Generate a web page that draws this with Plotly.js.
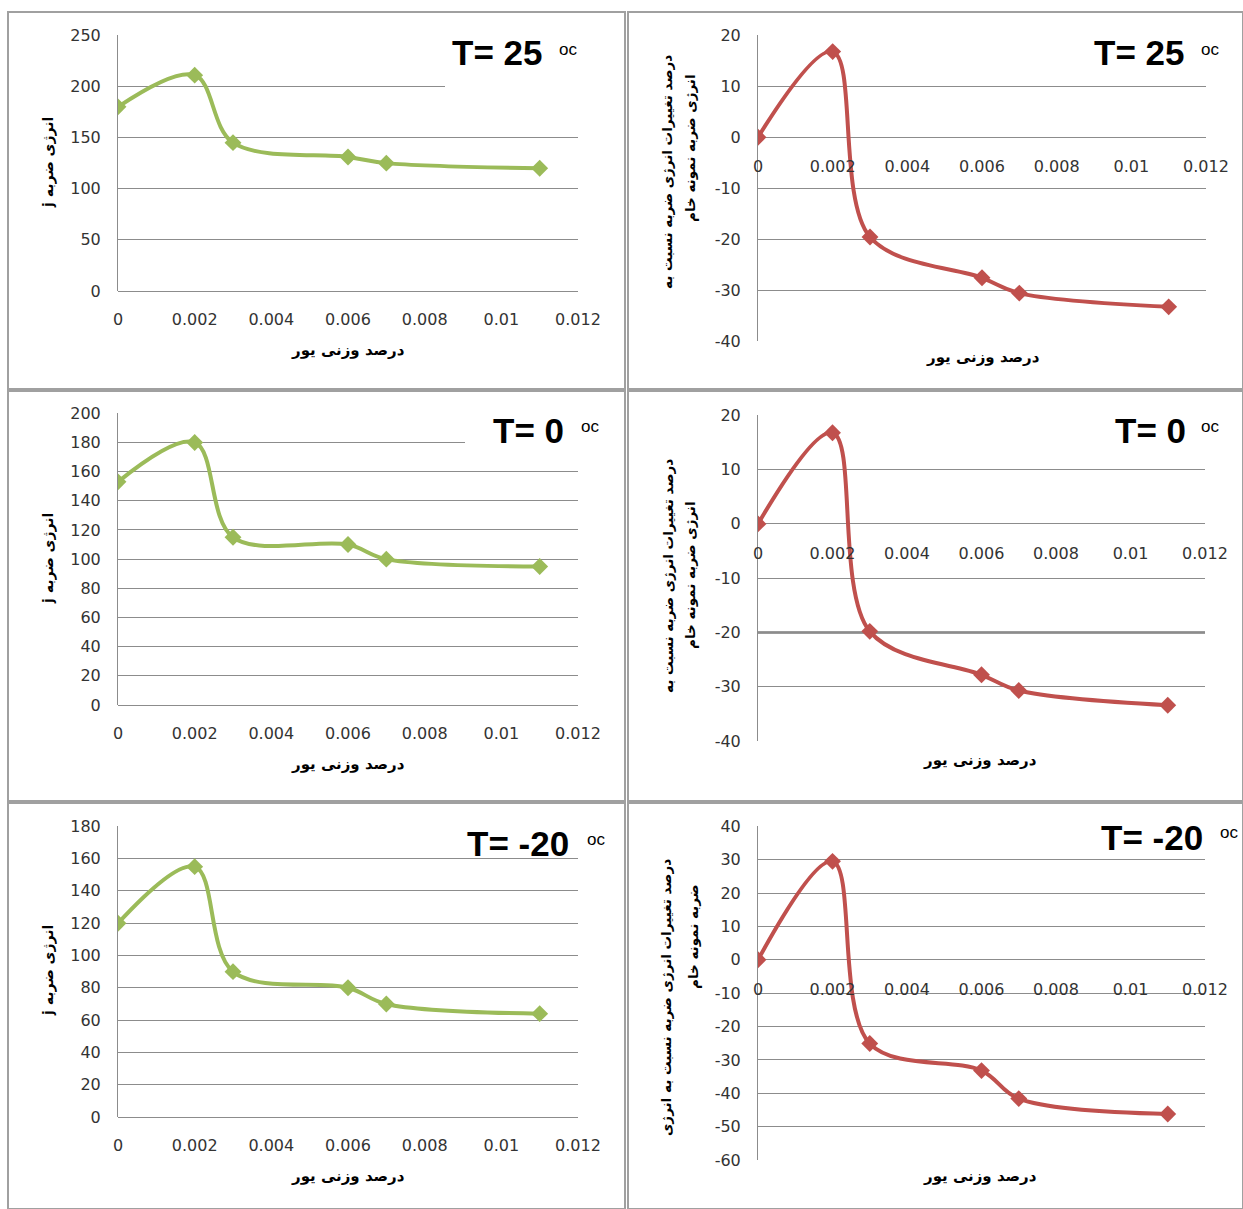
<!DOCTYPE html>
<html>
<head>
<meta charset="utf-8">
<script src="https://cdn.plot.ly/plotly-3.0.1.min.js"></script>
<style>html,body{margin:0;padding:0;background:#fff;}#chart{width:1243px;height:1209px;}</style>
</head>
<body>
<div id="chart"></div>
<script>
// ---- data ----
const wtPercent = [0, 0.002, 0.003, 0.006, 0.007, 0.011];
const energy25  = [180, 211, 145, 131, 125, 120];
const change25  = [0, 16.8, -19.6, -27.6, -30.6, -33.3];
const energy0   = [153, 180, 115, 110, 100, 95];
const change0   = [0, 16.8, -19.8, -27.8, -30.7, -33.4];
const energyM20 = [120, 155, 90, 80, 70, 64];
const changeM20 = [0, 29.5, -25.1, -33.2, -41.6, -46.2];
const xTicks = [0, 0.002, 0.004, 0.006, 0.008, 0.01, 0.012];
const xTickText = ['0', '0.002', '0.004', '0.006', '0.008', '0.01', '0.012'];
const yTicksE25 = [0, 50, 100, 150, 200, 250];
const yTicksE0 = [0, 20, 40, 60, 80, 100, 120, 140, 160, 180, 200];
const yTicksEM20 = [0, 20, 40, 60, 80, 100, 120, 140, 160, 180];
const yTicksP = [-40, -30, -20, -10, 0, 10, 20];
const yTicksPM20 = [-60, -50, -40, -30, -20, -10, 0, 10, 20, 30, 40];
const tempLabels = ['T= 25', 'T= 25', 'T= 0', 'T= 0', 'T= -20', 'T= -20'];
const xTitle = 'درصد وزنی یور';
const yTitleLeft = 'انرژی ضربه j';
const yTitleRight1 = 'درصد تغییرات انرژی ضربه نسبت به';
const yTitleRight2 = 'انرژی ضربه نمونه خام';
const yTitleRightB1 = 'درصد تغییرات انرژی ضربه نسبت به انرژی';
const yTitleRightB2 = 'ضربه نمونه خام';

// ---- layout helpers ----
const W = 1243, H = 1209;
const px = v => v / W;
const py = v => 1 - v / H;
const GREEN = '#9BBB59', RED = '#C0504D', GRID = '#8c8c8c';
const AR = 'DejaVu Sans';

const panels = [
  {ys: energy25,  ticks: yTicksE25,  color: GREEN, px: [118, 578],  py: [35, 291],   right: false},
  {ys: change25,  ticks: yTicksP,    color: RED,   px: [758, 1206], py: [35, 341],   right: true},
  {ys: energy0,   ticks: yTicksE0,   color: GREEN, px: [118, 578],  py: [413, 705],  right: false},
  {ys: change0,   ticks: yTicksP,    color: RED,   px: [758, 1205], py: [415, 741],  right: true},
  {ys: energyM20, ticks: yTicksEM20, color: GREEN, px: [118, 578],  py: [826, 1117], right: false},
  {ys: changeM20, ticks: yTicksPM20, color: RED,   px: [758, 1205], py: [826, 1160], right: true}
];

const traces = [];
const layout = {
  width: W, height: H,
  margin: {l: 0, r: 0, t: 0, b: 0},
  paper_bgcolor: '#fff', plot_bgcolor: '#fff',
  showlegend: false,
  shapes: [], annotations: []
};

panels.forEach((p, i) => {
  const n = i + 1;
  const xa = 'xaxis' + (n === 1 ? '' : n), ya = 'yaxis' + (n === 1 ? '' : n);
  const xr = 'x' + (n === 1 ? '' : n), yr = 'y' + (n === 1 ? '' : n);
  const xd = [px(p.px[0]), px(p.px[1])];
  const yd = [py(p.py[1]), py(p.py[0])];
  const lo = p.ticks[0], hi = p.ticks[p.ticks.length - 1];
  const range = [lo, hi + (hi - lo) * 0.001];
  traces.push({
    x: wtPercent, y: p.ys, xaxis: xr, yaxis: yr,
    type: 'scatter', mode: 'lines+markers',
    line: {shape: 'spline', smoothing: 1, color: p.color, width: 4},
    marker: {symbol: 'diamond', size: 13, color: p.color},
    hoverinfo: 'none'
  });
  const xaxis = {
    domain: xd, range: [0, 0.012], tickvals: xTicks, ticktext: xTickText,
    showgrid: false, zeroline: false, showline: false, ticks: '',
    tickfont: {family: AR, size: 16, color: '#333'},
    ticklabelstandoff: p.right ? 18 : 17, fixedrange: true
  };
  if (p.right) {
    xaxis.anchor = 'free';
    xaxis.position = yd[0] + (0 - range[0]) / (range[1] - range[0]) * (yd[1] - yd[0]);
  } else {
    xaxis.anchor = yr;
  }
  layout[xa] = xaxis;
  layout[ya] = {
    domain: yd, range: range, tickvals: p.ticks, ticktext: p.ticks.map(v => String(v)),
    anchor: xr,
    showgrid: true, gridcolor: GRID, gridwidth: 1,
    zeroline: true, zerolinecolor: GRID, zerolinewidth: 1,
    showline: true, linecolor: GRID, linewidth: 1, ticks: '',
    tickfont: {family: AR, size: 16, color: '#333'},
    ticklabelstandoff: 13, fixedrange: true
  };
});

// thicker gridline in middle-right panel
layout.shapes.push({type: 'line', xref: 'x4 domain', yref: 'y4', x0: 0, x1: 1, y0: -20, y1: -20,
  line: {color: '#7a7a7a', width: 2.5}, layer: 'below'});

// white label boxes (hide gridlines behind the temperature labels)
const boxes = [[445, 25, 600, 100], [1087, 22, 1243, 72], [465, 402, 605, 455],
               [1093, 402, 1243, 450], [455, 815, 615, 850], [1088, 815, 1243, 852]];
boxes.forEach(b => layout.shapes.push({type: 'rect', xref: 'paper', yref: 'paper',
  x0: px(b[0]), x1: px(b[2]), y0: py(b[3]), y1: py(b[1]),
  fillcolor: '#fff', line: {width: 0}, layer: 'above'}));

// panel borders
const frames = [[8, 12, 625, 389], [628, 12, 1243, 389], [8, 391, 625, 801],
                [628, 391, 1243, 801], [8, 803, 625, 1209], [628, 803, 1243, 1209]];
frames.forEach(b => layout.shapes.push({type: 'rect', xref: 'paper', yref: 'paper',
  x0: px(b[0]), x1: px(b[2]), y0: py(b[3]), y1: py(b[1]),
  line: {color: '#a0a0a0', width: 2}, layer: 'above'}));

function ann(text, x, y, opts) {
  layout.annotations.push(Object.assign({text: text, x: px(x), y: py(y), xref: 'paper', yref: 'paper',
    showarrow: false, xanchor: 'center', yanchor: 'middle'}, opts || {}));
}

// temperature labels
const tPos = [[497, 53, 568, 50], [1139, 53, 1210, 49], [528, 430, 590, 426],
              [1150, 430, 1210, 426], [518, 843, 596, 839], [1152, 837, 1229, 833]];
tPos.forEach((t, i) => {
  ann('<b>' + tempLabels[i] + '</b>', t[0], t[1], {font: {family: 'Liberation Sans', size: 35, color: '#000'}});
  ann('oc', t[2], t[3], {font: {family: 'Liberation Sans', size: 17, color: '#000'}});
});

// x titles
const xt = [[348, 350], [983, 357], [348, 764], [980, 760], [348, 1176], [980, 1176]];
xt.forEach(t => ann('<b>' + xTitle + '</b>', t[0], t[1], {font: {family: AR, size: 15, color: '#000'}}));

// left y titles (RTL embedding so the Latin unit sits at the visual end)
[[48, 163], [48, 559], [48, 971]].forEach(t =>
  ann('<b>\u202B' + yTitleLeft + '\u202C</b>', t[0], t[1], {textangle: -90, font: {family: AR, size: 14, color: '#000'}}));

// right y titles
const rf = {textangle: -90, font: {family: AR, size: 13.5, color: '#000'}};
ann('<b>' + yTitleRight1 + '</b>', 667, 172, rf);
ann('<b>' + yTitleRight2 + '</b>', 690, 148, rf);
ann('<b>' + yTitleRight1 + '</b>', 668, 576, rf);
ann('<b>' + yTitleRight2 + '</b>', 691, 575, rf);
ann('<b>' + yTitleRightB1 + '</b>', 666, 997, rf);
ann('<b>' + yTitleRightB2 + '</b>', 693, 937, rf);

Plotly.newPlot('chart', traces, layout, {staticPlot: true, displayModeBar: false});
</script>
</body>
</html>
